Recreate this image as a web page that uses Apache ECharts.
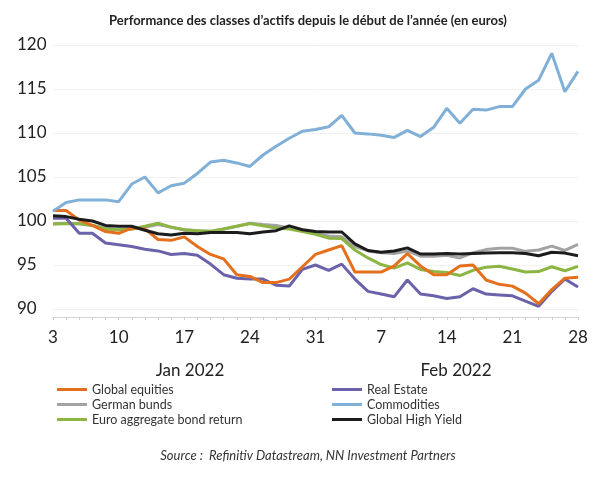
<!DOCTYPE html>
<html>
<head>
<meta charset="utf-8">
<script src="https://cdn.jsdelivr.net/npm/echarts@6/dist/echarts.min.js"></script>
<style>
html,body{margin:0;padding:0;background:#fff;}
#chart{width:615px;height:480px;}
</style>
</head>
<body>
<div id="chart"></div>
<script>
// Business days, 3 Jan 2022 – 28 Feb 2022
var dates = ['01-03','01-04','01-05','01-06','01-07','01-10','01-11','01-12','01-13','01-14',
  '01-17','01-18','01-19','01-20','01-21','01-24','01-25','01-26','01-27','01-28','01-31',
  '02-01','02-02','02-03','02-04','02-07','02-08','02-09','02-10','02-11',
  '02-14','02-15','02-16','02-17','02-18','02-21','02-22','02-23','02-24','02-25','02-28'];

var globalEquities = [101.2,101.2,100.1,99.5,98.8,98.6,99.2,99.1,97.9,97.8,98.2,97.1,96.2,95.7,93.9,93.7,93.0,93.0,93.4,94.8,96.2,96.7,97.2,94.2,94.2,94.2,94.9,96.3,94.9,93.9,93.9,94.9,95.0,93.3,92.8,92.6,91.8,90.6,92.2,93.5,93.6];
var realEstate = [100.3,100.3,98.6,98.6,97.5,97.3,97.1,96.8,96.6,96.2,96.3,96.1,95.1,93.9,93.5,93.4,93.4,92.7,92.6,94.5,95.0,94.4,95.1,93.4,92.0,91.7,91.4,93.3,91.7,91.5,91.2,91.4,92.3,91.7,91.6,91.5,90.9,90.3,92.0,93.4,92.5];
var germanBunds = [99.7,99.75,99.7,99.5,99.2,99.0,99.1,99.3,99.6,99.3,99.0,98.9,98.85,99.1,99.4,99.75,99.6,99.5,99.2,99.0,98.6,98.3,98.2,97.1,96.6,96.4,96.3,96.6,96.0,96.0,96.1,95.8,96.4,96.75,96.9,96.9,96.55,96.7,97.15,96.65,97.35];
var commodities = [101.1,102.1,102.4,102.4,102.4,102.2,104.2,105.0,103.2,104.0,104.3,105.4,106.7,106.9,106.6,106.2,107.5,108.5,109.4,110.2,110.4,110.7,112.0,110.0,109.9,109.75,109.5,110.3,109.6,110.65,112.8,111.1,112.7,112.6,113.0,113.0,115.0,116.0,119.05,114.7,117.0];
var euroAggregate = [99.65,99.7,99.7,99.5,99.1,99.0,99.1,99.4,99.75,99.3,99.0,98.9,98.8,99.1,99.4,99.7,99.45,99.2,99.1,98.8,98.5,98.05,98.0,96.7,95.8,95.05,94.65,95.25,94.5,94.25,94.15,93.8,94.4,94.75,94.85,94.55,94.2,94.25,94.8,94.35,94.85];
var globalHighYield = [100.6,100.5,100.2,100.0,99.5,99.4,99.4,98.95,98.55,98.4,98.6,98.55,98.7,98.7,98.7,98.55,98.75,98.9,99.45,99.0,98.8,98.75,98.75,97.4,96.65,96.45,96.6,96.95,96.25,96.25,96.3,96.25,96.3,96.35,96.4,96.4,96.3,96.05,96.45,96.35,96.05];

var seriesNames = ['Global equities','Real Estate','German bunds','Commodities','Euro aggregate bond return','Global High Yield'];
var monthLabels = ['Jan 2022','Feb 2022'];
var titleText = 'Performance des classes d\u2019actifs depuis le d\u00e9but de l\u2019ann\u00e9e (en euros)';
var sourceText = 'Source :  Refinitiv Datastream, NN Investment Partners';

var FONT = 'Lato, "Open Sans", sans-serif';
var colors = {
  'Global equities':'#E4701E',
  'Real Estate':'#6A62AA',
  'German bunds':'#A3A3A3',
  'Commodities':'#80B0D8',
  'Euro aggregate bond return':'#8CB543',
  'Global High Yield':'#1C1C1C'
};

function mk(name, data, z){
  return {name:name, type:'line', data:data, showSymbol:false, symbol:'none', z:z,
    lineStyle:{width:3, color:colors[name]}, itemStyle:{color:colors[name]}, animation:false};
}

var chart = echarts.init(document.getElementById('chart'), null, {renderer:'canvas'});
chart.setOption({
  animation:false,
  title:[
    {text:titleText, left:303, top:9, textAlign:'center',
     textStyle:{fontFamily:FONT, fontSize:13, fontWeight:'bold', color:'#222'}},
    {text:monthLabels[0], left:185, top:357, textAlign:'center',
     textStyle:{fontFamily:FONT, fontSize:17, fontWeight:'normal', color:'#222'}},
    {text:monthLabels[1], left:451, top:357, textAlign:'center',
     textStyle:{fontFamily:FONT, fontSize:17, fontWeight:'normal', color:'#222'}},
    {text:sourceText, left:303, top:444, textAlign:'center',
     textStyle:{fontFamily:FONT, fontSize:13, fontStyle:'italic', fontWeight:'normal', color:'#333'}}
  ],
  legend:[
    {data:[seriesNames[0],seriesNames[2],seriesNames[4]], orient:'vertical', left:57, top:382, padding:0,
     icon:'rect', itemWidth:30, itemHeight:3, itemGap:0,
     textStyle:{fontFamily:FONT, fontSize:12.5, color:'#333', lineHeight:15}},
    {data:[seriesNames[1],seriesNames[3],seriesNames[5]], orient:'vertical', left:332, top:382, padding:0,
     icon:'rect', itemWidth:30, itemHeight:3, itemGap:0,
     textStyle:{fontFamily:FONT, fontSize:12.5, color:'#333', lineHeight:15}}
  ],
  grid:{left:53, right:37, top:45, bottom:171, containLabel:false},
  xAxis:{
    type:'category', data:dates, boundaryGap:false, offset:8,
    axisLine:{lineStyle:{color:'#d6d6d6', width:1}},
    axisTick:{show:true, interval:0, length:3, lineStyle:{color:'#cfcfcf'}},
    axisLabel:{interval:4, margin:12, fontFamily:FONT, fontSize:17, color:'#222',
      formatter:function(v){return String(parseInt(v.split('-')[1],10));}},
    splitLine:{show:false}
  },
  yAxis:{
    type:'value', min:90, max:120, interval:5,
    axisLine:{show:false}, axisTick:{show:false},
    axisLabel:{align:'left', margin:36, fontFamily:FONT, fontSize:17, color:'#222'},
    splitLine:{lineStyle:{color:'#f1f1f1', width:1}}
  },
  series:[
    mk('German bunds', germanBunds, 2),
    mk('Euro aggregate bond return', euroAggregate, 3),
    mk('Real Estate', realEstate, 4),
    mk('Global equities', globalEquities, 5),
    mk('Commodities', commodities, 6),
    mk('Global High Yield', globalHighYield, 7)
  ]
});
</script>
</body>
</html>
